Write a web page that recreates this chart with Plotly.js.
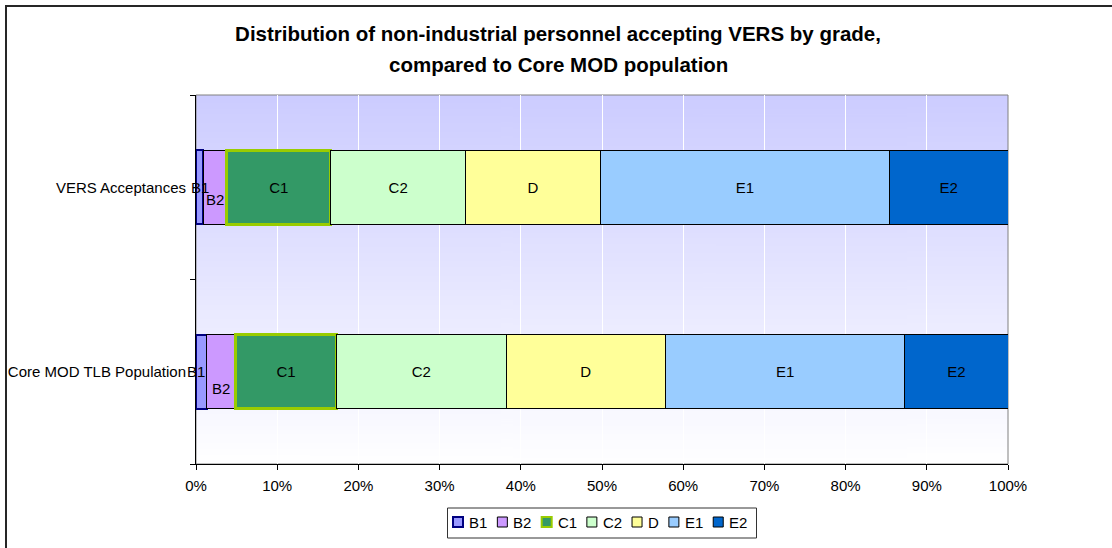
<!DOCTYPE html>
<html><head><meta charset="utf-8">
<script src="https://cdn.plot.ly/plotly-3.0.1.min.js"></script>
<style>html,body{margin:0;padding:0;background:#fff;} #chart{width:1112px;height:548px;}</style>
</head><body><div id="chart"></div>
<script>
// ---- data ----
const categories = ["VERS Acceptances", "Core MOD TLB Population"];
const grades = ["B1", "B2", "C1", "C2", "D", "E1", "E2"];
const versShares = [0.9, 2.9, 12.8, 16.6, 16.6, 35.6, 14.6];
const coreShares = [1.3, 3.6, 12.4, 20.9, 19.6, 29.5, 12.7];
const xTickValues = [0, 10, 20, 30, 40, 50, 60, 70, 80, 90, 100];
const xTickLabels = ["0%", "10%", "20%", "30%", "40%", "50%", "60%", "70%", "80%", "90%", "100%"];
const titleLines = ["Distribution of non-industrial personnel accepting VERS by grade,", "compared to Core MOD population"];

// ---- styles ----
const fillColors = ["#9999FF", "#CC99FF", "#339966", "#CCFFCC", "#FFFF99", "#99CCFF", "#0066CC"];
const lineColors = ["#000080", "#000000", "#99CC00", "#000000", "#000000", "#000000", "#000000"];
const lineWidths = [2, 1, 3, 1, 1, 1, 1];
const legendLineWidths = [2, 1, 2, 1, 1, 1, 1];
const FONT = "Arial, 'Liberation Sans', sans-serif";
const FS = 15;
const TFS = 20.5;

const W = 1112, H = 548;
const M = {l: 196, r: 104, t: 95, b: 84};
const PW = W - M.l - M.r, PH = H - M.t - M.b;
const pxX = px => (px - M.l) / PW;
const pxY = py => (H - M.b - py) / PH;

// gradient background image
const cv = document.createElement('canvas');
cv.width = 4; cv.height = 256;
const g = cv.getContext('2d');
const grad = g.createLinearGradient(0, 0, 0, 256);
grad.addColorStop(0, '#CCCCFF');
grad.addColorStop(1, '#FFFFFF');
g.fillStyle = grad; g.fillRect(0, 0, 4, 256);
const bgURL = cv.toDataURL('image/png');

// traces
const smallLabels = ['B1', 'B2'];
const traces = grades.map((gname, i) => ({
  type: 'bar', orientation: 'h', name: gname,
  y: categories,
  x: [versShares[i], coreShares[i]],
  text: smallLabels.includes(gname) ? ['', ''] : [gname, gname],
  textposition: 'inside', insidetextanchor: 'middle', constraintext: 'none', textangle: 0,
  textfont: {family: FONT, size: FS, color: '#000'},
  marker: {color: fillColors[i], line: {color: lineColors[i], width: lineWidths[i]}},
  hoverinfo: 'skip', showlegend: false
}));

// B1 / B2 labels (too narrow for inside text; B2 sits lower, as in the original)
const annotations = [];
const seriesByCat = [versShares, coreShares];
const b1Shift = [0, -5];
const b2Shift = [-12, -17];
categories.forEach((c, k) => {
  const s = seriesByCat[k];
  annotations.push({x: s[0] / 2, y: c, xref: 'x', yref: 'y', text: grades[0], showarrow: false,
    xshift: b1Shift[k], font: {family: FONT, size: FS, color: '#000'}});
  annotations.push({x: s[0] + s[1] / 2, y: c, xref: 'x', yref: 'y', text: grades[1], showarrow: false,
    yshift: b2Shift[k], font: {family: FONT, size: FS, color: '#000'}});
});

// second title line
annotations.push({xref: 'paper', yref: 'paper', x: pxX(558), y: pxY(64), xanchor: 'center', yanchor: 'middle',
  text: '<b>' + titleLines[1] + '</b>', showarrow: false, font: {family: FONT, size: TFS, color: '#000'}});

// manual legend
const shapes = [];
const mctx = document.createElement('canvas').getContext('2d');
mctx.font = FS + "px Arial, 'Liberation Sans'";
let lx = 453;
const symTop = 517, symBot = 527;
grades.forEach((gname, i) => {
  shapes.push({type: 'rect', xref: 'paper', yref: 'paper', x0: pxX(lx), x1: pxX(lx + 10), y0: pxY(symBot), y1: pxY(symTop),
    fillcolor: fillColors[i], line: {color: lineColors[i], width: legendLineWidths[i]}});
  annotations.push({xref: 'paper', yref: 'paper', x: pxX(lx + 14), y: pxY(522), xanchor: 'left', yanchor: 'middle',
    text: gname, showarrow: false, font: {family: FONT, size: FS, color: '#000'}});
  lx += 15 + mctx.measureText(gname).width + 11;
});
shapes.push({type: 'rect', xref: 'paper', yref: 'paper', x0: pxX(447.5), x1: pxX(756.5), y0: pxY(538), y1: pxY(508),
  line: {color: '#333', width: 1}});
// plot area border (grey)
shapes.push({type: 'rect', xref: 'paper', yref: 'paper', x0: 0, x1: 1, y0: 0, y1: 1, line: {color: '#808080', width: 1}, layer: 'below'});
// chart frame
shapes.push({type: 'rect', xref: 'paper', yref: 'paper', x0: pxX(6), x1: pxX(1130), y0: pxY(570), y1: pxY(6),
  line: {color: '#262626', width: 2}});

const layout = {
  width: W, height: H,
  margin: {l: M.l, r: M.r, t: M.t, b: M.b, pad: 0},
  paper_bgcolor: '#fff', plot_bgcolor: 'rgba(0,0,0,0)',
  barmode: 'stack', bargap: 0.6,
  showlegend: false,
  font: {family: FONT, size: FS, color: '#000'},
  title: {text: '<b>' + titleLines[0] + '</b>',
    font: {family: FONT, size: TFS, color: '#000'},
    x: pxX(558), xref: 'paper', xanchor: 'center', y: 1 - 34 / H, yref: 'container', yanchor: 'middle'},
  xaxis: {range: [0, 100], tickmode: 'array', tickvals: xTickValues, ticktext: xTickLabels,
    showgrid: true, gridcolor: '#FFFFFF', gridwidth: 1, zeroline: false,
    showline: true, linecolor: '#000', linewidth: 1, ticks: 'outside', ticklen: 5, tickcolor: '#000',
    tickfont: {family: FONT, size: FS, color: '#000'}, ticklabelstandoff: 3, fixedrange: true},
  yaxis: {type: 'category', categoryorder: 'array', categoryarray: [categories[1], categories[0]],
    tickson: 'boundaries', ticks: 'outside', ticklen: 5, tickcolor: '#000',
    showline: true, linecolor: '#000', linewidth: 1, showgrid: false, zeroline: false,
    tickfont: {family: FONT, size: FS, color: '#000'}, ticklabelstandoff: 6, fixedrange: true},
  images: [{source: bgURL, xref: 'paper', yref: 'paper', x: 0, y: 1, sizex: 1, sizey: 1,
    sizing: 'stretch', xanchor: 'left', yanchor: 'top', layer: 'below'}],
  shapes: shapes,
  annotations: annotations
};

Plotly.newPlot('chart', traces, layout, {displayModeBar: false, staticPlot: true});
</script>
</body></html>
